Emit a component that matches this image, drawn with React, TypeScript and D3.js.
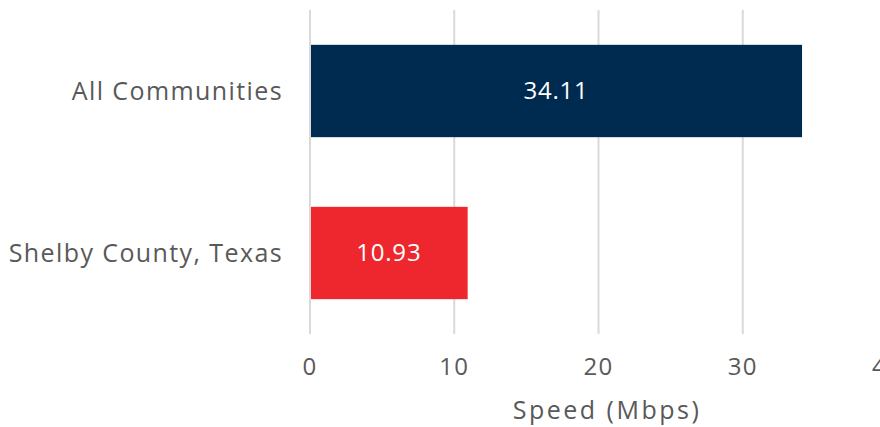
import React from "react";
import * as d3 from "d3";

const categories = ["All Communities", "Shelby County, Texas"];
const values = [34.11, 10.93];
const colors = ["#002B51", "#EE272E"];
const xTicks = [0, 10, 20, 30, 40];
const xTitle = "Speed (Mbps)";

export default function App() {
  const W = 880, H = 427;
  const x = d3.scaleLinear().domain([0, 40]).range([310, 887]);
  const y = d3.scaleBand<string>().domain(categories).range([10, 334]).paddingInner(0.43).paddingOuter(0.215);
  const font = "'Open Sans', sans-serif";
  return (
    <svg width={W} height={H} style={{ position: "absolute", left: 0, top: 0, background: "#fff" }}>
      {xTicks.map((t) => (
        <line key={"g" + t} x1={x(t)} x2={x(t)} y1={10} y2={334} stroke="#D9D9D9" strokeWidth={2} />
      ))}
      {categories.map((c, i) => (
        <g key={c}>
          <rect x={x(0) + 1} y={y(c)} width={x(values[i]) - x(0) - 1} height={y.bandwidth()} fill={colors[i]} />
          <text x={(x(0) + x(values[i])) / 2} y={(y(c) as number) + y.bandwidth() / 2} dy="0.35em" textAnchor="middle" fill="#fff" fontSize={24} fontFamily={font} letterSpacing={0.8}>
            {values[i].toFixed(2)}
          </text>
          <text x={283} y={(y(c) as number) + y.bandwidth() / 2} dy="0.35em" textAnchor="end" fill="#595959" fontSize={25} fontFamily={font} letterSpacing={1.4}>
            {c}
          </text>
        </g>
      ))}
      {xTicks.map((t) => (
        <text key={"t" + t} x={x(t)} y={367} dy="0.35em" textAnchor="middle" fill="#595959" fontSize={24} fontFamily={font} letterSpacing={1.2}>
          {t}
        </text>
      ))}
      <text x={607} y={410} dy="0.35em" textAnchor="middle" fill="#595959" fontSize={25} fontFamily={font} letterSpacing={2.5}>
        {xTitle}
      </text>
    </svg>
  );
}
